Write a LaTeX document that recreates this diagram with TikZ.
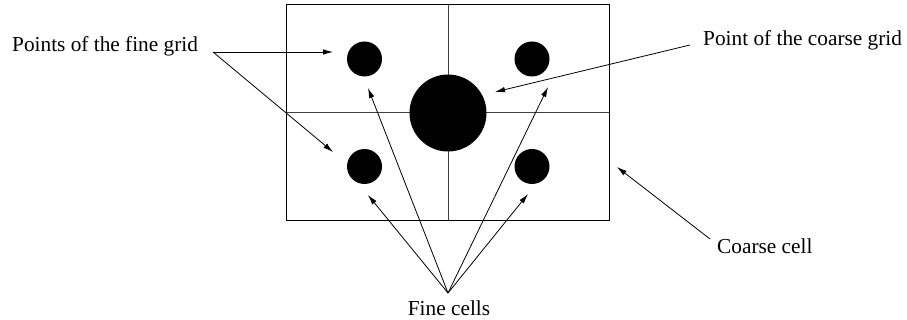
\documentclass[tikz,border=0pt]{standalone}
\usepackage{fontspec}
\setmainfont{Liberation Serif}
\usetikzlibrary{arrows.meta}
\begin{document}
\begin{tikzpicture}[x=1pt,y=-1pt,
  lbl/.style={inner sep=0pt,font=\fontsize{21.3}{24}\selectfont},
  dot/.style={circle,fill=black,inner sep=0pt},
  arr/.style={-{Latex[length=10pt,width=5.5pt]},line width=0.8pt},
  cellline/.style={line width=0.9pt,draw=black!75}]
\useasboundingbox (0,0) rectangle (907,320);
% coarse cell
\node[minimum width=322.5pt,minimum height=215pt,inner sep=0pt] (cell) at (448,112.5) {};
\draw[cellline] (cell.north) -- (cell.south);
\draw[cellline] (cell.west) -- (cell.east);
\draw[line width=1.1pt] (cell.south west) rectangle (cell.north east);
% points
\node[dot,minimum size=35pt] (f1) at (364.5,59) {};
\node[dot,minimum size=35pt] (f2) at (364.5,166.5) {};
\node[dot,minimum size=35pt] (f3) at (532,59) {};
\node[dot,minimum size=35pt] (f4) at (532,166.5) {};
\node[dot,minimum size=77pt] (c) at (448,113) {};
% labels
\node[lbl,anchor=base west] (lfine) at (12,52) {Points of the fine grid};
\node[lbl,anchor=base west] (lcoarse) at (703,45.5) {Point of the coarse grid};
\node[lbl,anchor=base west] (lcell) at (717,254) {Coarse cell};
\node[lbl,anchor=base] (lfc) at (449,315) {Fine cells};
% connector coordinates
\coordinate (sfine) at (213,52);
\coordinate (tf1) at (333,52);
\coordinate (tf2) at (333,152);
\coordinate (scoarse) at (690,45);
\coordinate (tc) at (495,92);
\coordinate (scell) at (710,239);
\coordinate (tcell) at (617,167);
\coordinate (sfc) at (448,293);
\coordinate (ta) at (368,88);
\coordinate (tb) at (368,195);
\coordinate (tcc) at (548,87);
\coordinate (td) at (528,194);
% arrows
\draw[arr] (sfine) -- (tf1);
\draw[arr] (sfine) -- (tf2);
\draw[arr] (scoarse) -- (tc);
\draw[arr] (scell) -- (tcell);
\draw[arr] (sfc) -- (ta);
\draw[arr] (sfc) -- (tb);
\draw[arr] (sfc) -- (tcc);
\draw[arr] (sfc) -- (td);
\end{tikzpicture}
\end{document}
